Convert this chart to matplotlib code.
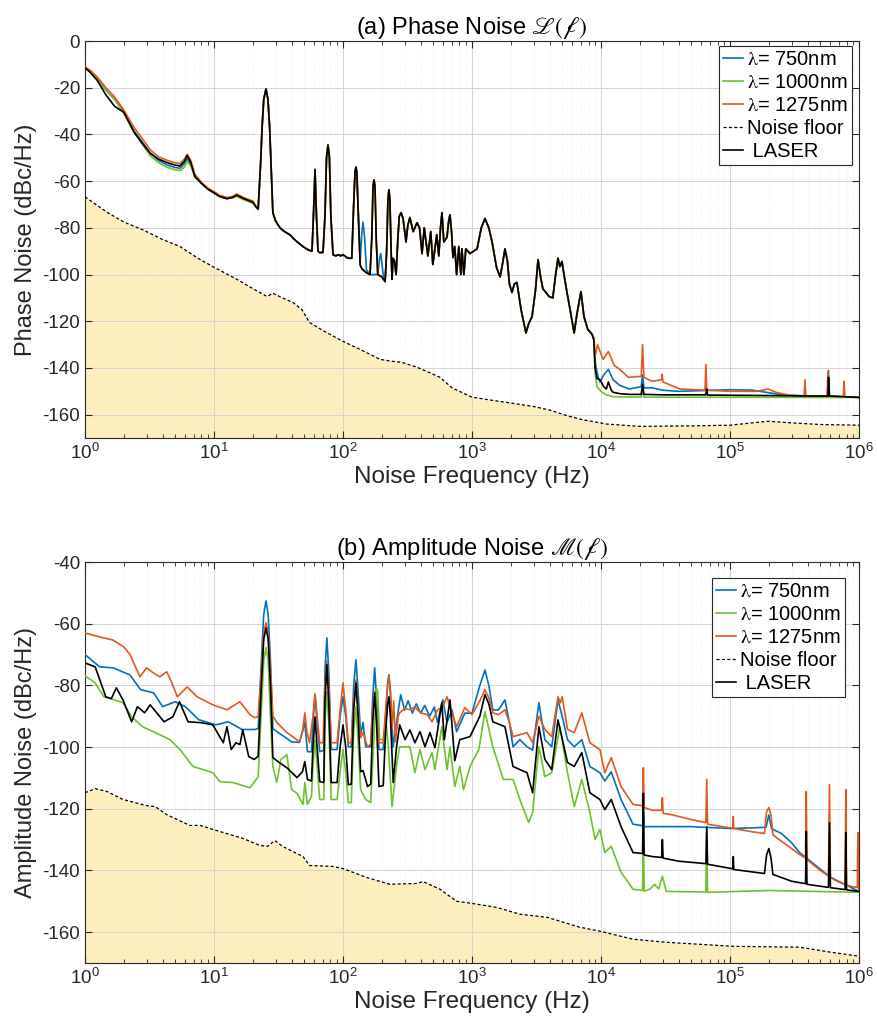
import numpy as np
import matplotlib
matplotlib.use("Agg")
import matplotlib.pyplot as plt
from matplotlib.ticker import (FixedLocator, NullFormatter, MultipleLocator,
                               LogFormatterSciNotation)
from matplotlib.font_manager import FontProperties

plt.rcParams["font.family"] = ["Liberation Sans", "DejaVu Sans"]
plt.rcParams["axes.unicode_minus"] = False

# ---------------------------------------------------------------- phase noise
# low-frequency part (1 Hz .. 21.5 Hz), one per source
pn_low_f = [1, 1.1, 1.25, 1.45, 1.7, 2.0, 2.4, 2.8, 3.2, 3.7, 4.3, 4.9, 5.45,
            5.9, 6.2, 6.6, 7.1, 8, 9, 10, 11, 12.6, 14, 15, 17, 20, 21.5]
pn_low_laser = [-11.5, -13.5, -17, -23, -28, -30.5, -39, -44, -48, -50.5, -52, -53, -53.5,
                -51.5, -49, -52, -58, -61, -63.5, -65, -66.5, -67.5, -67, -66, -67.5, -69, -71.5]
pn_low_750 = [-11.5, -13, -16, -21, -25, -30.5, -38.5, -43.5, -48, -51, -53, -54, -54.5,
              -52.5, -50.5, -53, -58, -61, -63.5, -65, -66.5, -67.5, -66.5, -66, -67.5, -69, -71.5]
pn_low_1000 = [-11.5, -13, -16, -21, -25, -31, -39, -44.5, -49, -52, -54, -55, -55.5,
               -54, -51.5, -53.5, -58, -61, -63.5, -65, -66.5, -67.5, -67, -66.5, -68, -69.5, -71.5]
pn_low_1275 = [-11, -12.5, -15.5, -20, -24, -29.5, -37, -42, -46.5, -49.5, -51, -52, -52.5,
               -50.5, -48.5, -51, -57, -60.5, -63, -64.5, -66, -67, -66.5, -65.5, -67, -68.5, -71.5]

# shared mid band (22 Hz .. 8.5 kHz), identical for every source
pn_mid_f = [22, 23, 23.6, 24.3, 25.3, 26.2, 27, 27.8, 28.6, 30, 32.5, 35, 38.8, 43, 49, 54,
            57.5, 59, 60.7, 62.3, 64, 66, 70, 72.5, 74.5, 76.5, 78.5, 80.5, 83.7, 88, 92, 96,
            100, 109, 117, 121, 124, 126, 128, 131, 136, 140, 150, 162, 167, 171, 174, 177,
            181, 186, 200, 212, 218, 223, 227, 231, 236, 240, 244, 250, 258, 266, 273, 282,
            292, 308, 318, 330, 350, 375, 392, 410, 426, 455, 479, 497, 533, 553, 570, 585,
            605, 640, 660, 675, 695, 712, 735, 760, 790, 820, 835, 865, 895, 930, 965, 1095,
            1180, 1260, 1350, 1430, 1550, 1650, 1730, 1800, 1880, 1950, 2040, 2130, 2230,
            2400, 2620, 2750, 2920, 3100, 3250, 3400, 3540, 3960, 4230, 4450, 4640, 4800,
            4980, 5200, 5450, 5800, 6190, 6550, 6990, 7380, 7900, 8530]
pn_mid_db = [-72, -52, -37, -25, -20.5, -25, -37, -55, -73.5, -77, -80, -81.5, -83, -85.5, -88,
             -89.5, -90, -75, -55, -75, -90, -90.6, -90.5, -75, -50, -44.5, -50, -75, -91.5,
             -92, -91.5, -92, -91.5, -93, -93, -70, -56, -54, -56, -72, -96, -97.5, -99, -100,
             -85, -62, -59.5, -62, -85, -100, -101, -103, -90, -68, -63.7, -68, -90, -102, -93,
             -94, -100, -85, -75, -73.5, -76, -86, -79, -75.6, -81.6, -77.8, -80, -91, -80,
             -92, -81.6, -95.7, -83, -92, -80, -73.5, -86, -84, -77, -74.4, -82, -92.7, -88,
             -100, -88, -100, -89, -100, -89, -90, -91, -89, -80, -76, -80, -86, -97, -101,
             -95, -89, -94, -104, -107.7, -104, -103.4, -115, -125, -121, -118, -107, -93.6,
             -101, -106, -109.4, -110, -100, -93, -96.6, -94.4, -101, -107.7, -116, -125, -116,
             -107.3, -118, -123.5, -125.6]

# 750 nm shows two extra bumps near 143 Hz and 196 Hz
pn_750_bump_f = [136, 140, 143, 147, 152, 162, 186, 192, 196, 200, 206]
pn_750_bump_db = [-94, -82, -77.5, -84, -98, -100, -100, -93, -91, -95, -101]

# high-frequency tails (8.8 kHz .. 1 MHz)
pn_hi_laser_f = [8800, 9000, 9300, 9800, 10500, 11000, 11400, 12000, 12400, 14000, 16600,
                 20500, 21000, 21500, 30000, 65000, 66000, 67000, 200000, 380000, 575000,
                 580000, 590000, 1e6]
pn_hi_laser_db = [-128, -140, -144.5, -145, -148, -149, -146, -149.5, -150.4, -151, -151.3,
                  -151.3, -147, -151.3, -151.5, -151.5, -149, -151.6, -151.8, -152, -152,
                  -144, -152, -152.6]
pn_hi_750_f = [8800, 9000, 9100, 9500, 9800, 10500, 11400, 12400, 13000, 14000, 16600,
               20500, 21000, 21500, 25000, 30000, 40000, 100000, 150000, 240000, 400000,
               570000, 580000, 590000, 1e6]
pn_hi_750_db = [-128, -136, -139, -144, -146, -143, -140.6, -145, -146, -147.5, -149, -148,
                -143, -148.5, -148.5, -149.5, -150, -149.3, -149.5, -151.3, -152, -152, -141,
                -152, -152.6]
pn_hi_1000_f = [8800, 9000, 9300, 10000, 11000, 12400, 20500, 21000, 21500, 1e6]
pn_hi_1000_db = [-128, -142, -148, -150, -151.5, -152.3, -152.5, -149, -152.5, -152.6]
pn_hi_1275_f = [8800, 9000, 9400, 10000, 10400, 11400, 12700, 14000, 16300, 20500, 21000,
                21500, 24900, 29500, 29800, 30200, 41000, 64000, 65000, 66000, 100000,
                162000, 197000, 230000, 308000, 375000, 381000, 387000, 565000, 575000,
                585000, 755000, 766000, 777000, 1e6]
pn_hi_1275_db = [-127, -135, -130, -134, -136.3, -133, -139, -140.6, -144, -143.6, -130,
                 -144, -145.7, -145, -142.7, -146, -149, -149.5, -138.5, -149.5, -150, -150,
                 -149, -150.5, -152, -152, -145, -152, -152, -141.5, -152, -152.3, -145.7,
                 -152.3, -152.6]

pn_floor_f = [1, 1.5, 2, 2.8, 4, 5.45, 7.5, 9.8, 15, 20, 25.8, 28.6, 34, 41, 48, 55, 70, 100,
              135, 194, 230, 287, 375, 470, 565, 700, 1000, 1500, 2000, 3000, 4000, 5500,
              7000, 11000, 20000, 50000, 100000, 197000, 300000, 500000, 1e6]
pn_floor_db = [-66.7, -73.5, -77.5, -80.8, -85, -88, -93, -96.6, -102, -106, -109.4, -108,
               -110, -112, -115, -120.5, -124, -128.6, -132, -136.3, -137, -137.6, -139.7,
               -142, -144, -148.5, -152.5, -154, -155, -156.5, -158, -160.5, -162, -164, -165,
               -164.8, -164.5, -162.8, -163.5, -164.2, -164.5]

# ------------------------------------------------------------ amplitude noise
am_floor_f = [1, 1.2, 1.48, 1.97, 3.0, 3.5, 4.3, 6.5, 7.8, 9.8, 16.7, 22.7, 26, 29.6, 34, 49,
              55, 83.7, 100, 153, 231, 375, 417, 565, 760, 1000, 1560, 2350, 3820, 6830,
              9800, 17700, 32000, 106000, 346000, 600000, 1e6]
am_floor_db = [-114.8, -113.5, -114.4, -117, -119, -119.3, -121.9, -125.4, -125.4, -126.7,
               -129.6, -131.9, -132.2, -130.3, -132.2, -135.5, -138.4, -138.7, -139.4, -142.3,
               -144.5, -144.2, -143.6, -146.1, -150, -150.7, -152, -154.2, -155.2, -158.4,
               -159.7, -162.3, -163.3, -164.6, -164.9, -166.5, -167.8]

am_1275_f = [1, 1.3, 1.65, 2.0, 2.23, 2.67, 3.0, 3.4, 3.8, 4.3, 4.7, 5.2, 6.2, 7.4, 8.5, 9.8,
             12.6, 15.9, 19, 20.8, 22, 23.3, 24.3, 25.3, 26.3, 27.4, 28.6, 30.7, 36.7, 42, 46,
             48.5, 50.6, 52.5, 55, 58.5, 60.7, 63, 66, 70, 72.5, 75, 77.5, 81, 90, 95, 100,
             105, 110, 116, 121, 126, 131, 137, 143, 155, 164, 170, 176, 182, 190, 205, 214,
             222, 227, 233, 240, 247, 255, 268, 275, 300, 330, 360, 400, 450, 490, 540, 594,
             640, 700, 760, 880, 1000, 1150, 1260, 1350, 1450, 1600, 1800, 1950, 2080, 2350,
             2670, 2950, 3300, 3670, 4150, 4640, 4850, 5000, 5500, 6200, 7100, 8200, 9800,
             10700, 12000, 14300, 17700, 21000, 21300, 21600, 25000, 29500, 29900, 30300,
             35000, 50000, 65000, 66000, 67000, 100000, 105000, 106000, 107000, 150000,
             185000, 192000, 200000, 208000, 215000, 250000, 346000, 385000, 390000, 395000,
             500000, 580000, 590000, 600000, 700000, 780000, 790000, 800000, 900000, 970000,
             980000, 990000, 1e6]
am_1275_db = [-63, -64.3, -65.3, -67.5, -70, -77.2, -74.3, -76, -77.2, -75.6, -79, -83.7,
              -80.5, -83.7, -85, -86.3, -87.9, -85.3, -89.5, -90.5, -90, -75, -63, -59.7, -63,
              -75, -90, -92, -95.3, -97, -98.3, -95, -88.9, -95, -98.6, -90, -82.7, -90, -98.6,
              -98.6, -80, -72, -80, -98.6, -98.6, -88, -79.2, -88, -98.6, -98.6, -85, -78.2,
              -88, -97, -95.3, -99.9, -99, -88, -82, -90, -98.6, -98.6, -88, -80, -76.9, -82,
              -94.3, -85, -98.3, -90, -88.9, -87.5, -87.9, -87, -88.9, -89.5, -91.8, -88,
              -86.9, -83.7, -89, -93.4, -87.2, -89.5, -85, -81.4, -84, -88.9, -89.5, -87.9,
              -92, -96.6, -96, -95.3, -98.6, -90, -94.3, -96.6, -83.7, -85.6, -83.7, -94.3,
              -95.3, -88.9, -98.6, -100.8, -108.3, -103.4, -112.8, -118.6, -119, -106.7,
              -119.6, -120.5, -120.5, -116.4, -121.5, -121.9, -123.5, -124.5, -110.5, -125,
              -126.2, -126.3, -122.5, -126.4, -127.5, -128, -121, -119.6, -122, -128.5, -130.5,
              -134.8, -136, -114.4, -136.5, -140, -141.8, -112.2, -142.3, -143.8, -144.5,
              -113.8, -144.8, -145.3, -145.5, -127.7, -145.8, -146]

am_750_f = [1, 1.3, 1.65, 2.23, 2.7, 3.4, 4.0, 5.0, 6.0, 7.6, 10.3, 12.9, 16.5, 20.8, 22,
            23.3, 24.3, 25.3, 26.3, 27.4, 28.6, 31.5, 40, 46, 50.6, 53, 57, 58.5, 60.7, 63,
            66, 71, 72.5, 75, 77.5, 81, 90, 95, 100, 105, 110, 116, 121, 126, 131, 137, 143,
            150, 164, 170, 176, 182, 190, 205, 214, 222, 227, 233, 245, 260, 280, 300, 320,
            345, 370, 400, 430, 470, 510, 540, 594, 640, 700, 760, 880, 1000, 1150, 1260,
            1350, 1450, 1600, 1800, 1950, 2080, 2350, 2670, 2950, 3300, 3670, 4150, 4640,
            5000, 5500, 6200, 7100, 8200, 9800, 10700, 12000, 14300, 17700, 21000, 21300,
            21600, 30000, 50000, 100000, 150000, 190000, 200000, 210000, 250000, 300000,
            346000, 450000, 590000, 700000, 1e6]
am_750_db = [-70, -74, -74.3, -76.6, -81.4, -82.4, -86.9, -85.3, -86.9, -91.1, -92.8, -91.8,
             -94.3, -94.3, -94, -72, -57, -52.6, -57, -72, -94, -95.3, -98.3, -98.5, -92,
             -101.5, -101.5, -92, -83, -92, -101.5, -101, -75, -64.6, -75, -100.8, -100.8,
             -90, -83.7, -90, -99.9, -99.9, -80, -71.7, -82, -96, -92, -99.9, -99.9, -84,
             -74.3, -84, -100.8, -100.8, -90, -79, -76.6, -82, -99.9, -92, -83, -88, -85, -89,
             -86, -89, -86.5, -90, -87, -92, -84.7, -92, -88, -95, -89, -89, -80, -75, -80,
             -87.9, -88, -84.7, -92, -99.9, -97.6, -99.9, -101, -85.6, -97.6, -99.9, -84.7,
             -90, -97.6, -99.9, -97.6, -106.3, -108.3, -111, -108, -117, -125, -125.5, -121,
             -125.8, -125.8, -125.8, -126.4, -126.2, -126, -122, -126.5, -128, -131, -134.2,
             -138, -142, -143.6, -146.8]

am_laser_f = [1, 1.2, 1.45, 1.6, 1.75, 1.97, 2.3, 2.55, 2.9, 3.2, 3.6, 4.1, 4.8, 5.4, 6.3, 8,
              9.8, 11.8, 12.6, 13.6, 14.8, 15.9, 16.7, 18.6, 20.5, 22, 23.3, 24.3, 25.3, 26.3,
              27.4, 28.6, 32, 36.7, 44, 48.5, 50.6, 53, 57, 58.5, 60.7, 63, 66, 71, 72.5, 75,
              77.5, 81, 90, 95, 100, 105, 110, 116, 121, 126, 131, 137, 143, 155, 164, 170,
              176, 182, 190, 205, 214, 222, 227, 233, 245, 260, 275, 303, 330, 361, 395, 432,
              472, 516, 583, 610, 675, 735, 804, 965, 1150, 1260, 1350, 1450, 1800, 2080, 2350,
              2670, 2950, 3300, 3670, 4150, 4640, 5500, 6200, 7100, 8200, 9800, 10700, 12000,
              14300, 17700, 21000, 21300, 21600, 25000, 29500, 29900, 30300, 40000, 65000,
              66000, 67000, 100000, 105000, 106000, 107000, 185000, 192000, 200000, 208000,
              215000, 300000, 385000, 390000, 395000, 580000, 590000, 600000, 780000, 790000,
              800000, 1e6]
am_laser_db = [-72.7, -74, -83.7, -84.3, -80.8, -84.7, -91.8, -86.9, -88.9, -86.3, -88.9,
               -91.8, -90.2, -85.3, -91.8, -92.1, -92.8, -98.6, -93.4, -100.8, -98.6, -99.2,
               -94.4, -103.1, -104, -103, -80, -65, -61.4, -65, -80, -103.4, -105, -106.7,
               -109.9, -108, -104.7, -110.5, -111, -100, -90.2, -100, -111.2, -111.5, -85,
               -73.3, -85, -111.5, -111.5, -100, -92.8, -100, -112.2, -112, -88, -79.2, -90,
               -108, -107.6, -112.8, -112, -92, -82.4, -92, -112.8, -112.5, -95, -86, -83.7,
               -90, -111.5, -100, -92.8, -97.6, -94.4, -98.6, -95, -99.9, -95.3, -100.2, -85.6,
               -97.6, -84.7, -104.4, -97.6, -96.6, -90, -83, -86, -91.8, -93.4, -106.3, -107.3,
               -108.3, -114.8, -93.4, -104, -107.3, -91.2, -105, -106.3, -101.8, -114.8, -117,
               -120.3, -117, -125.8, -134.2, -134.5, -115, -135, -135.5, -135.8, -130, -136,
               -137, -137.8, -125.8, -138, -139.3, -139.5, -135.5, -139.7, -141, -135, -132.9,
               -136, -141.3, -143.5, -144.3, -127.4, -144.5, -145.5, -124.5, -145.6, -146.2,
               -127.7, -146.3, -146.8]

am_1000_f = [1, 1.2, 1.4, 1.7, 1.97, 2.3, 2.8, 3.5, 4.56, 5.45, 6.87, 9.8, 11.1, 14, 19, 22,
             23.3, 24.3, 25.3, 26.3, 27.4, 28.6, 30.7, 33, 36.7, 40, 44, 49, 50.6, 53, 57,
             58.5, 60.7, 63, 66, 71, 72.5, 75, 77.5, 81, 90, 95, 100, 105, 110, 116, 121, 126,
             131, 137, 150, 164, 170, 176, 182, 186, 192, 205, 215, 225, 240, 262, 275, 330,
             361, 395, 432, 490, 516, 583, 640, 675, 735, 804, 860, 965, 1130, 1260, 1450,
             1750, 2080, 2350, 2750, 2950, 3300, 3670, 4150, 4800, 5500, 6200, 7100, 8200,
             9000, 9800, 10700, 12000, 14300, 17700, 21000, 21300, 21600, 24000, 26000, 28000,
             29900, 32000, 65000, 66000, 67000, 200000, 1e6]
am_1000_db = [-76.9, -79.2, -83.7, -84.7, -85.6, -90.2, -93.4, -95.3, -97.6, -100.8, -106.3,
              -108.3, -111.2, -111.5, -113.2, -109.6, -88, -72, -67.8, -72, -90, -106.3,
              -111.5, -104, -102.5, -113.8, -115, -118.6, -111.5, -118.6, -116, -106, -97.6,
              -106, -117, -117, -92, -82, -92, -117, -117, -108, -100.8, -108, -118, -118,
              -95, -87, -98, -113.8, -117, -118, -105, -92, -81, -82, -97.6, -97.6, -91.1,
              -100, -119.3, -105, -99.9, -99.9, -108.3, -100.8, -107.3, -101.8, -107.3, -93.4,
              -107.3, -99.9, -112.8, -106.3, -113.8, -106.3, -100.8, -88.5, -99.9, -110.5,
              -110.5, -117, -124.5, -121.2, -99.9, -109.6, -108.3, -93.4, -108.3, -119.3,
              -110.5, -121.2, -130, -126.7, -134.2, -132.2, -140.6, -146.1, -146.5, -123.5,
              -146.8, -146, -144.5, -146, -141.9, -146.8, -147, -126.7, -147.1, -146.5, -147.1]

labels = [r"$\mathrm{\lambda}$= 750nm", r"$\mathrm{\lambda}$= 1000nm",
          r"$\mathrm{\lambda}$= 1275nm", "Noise floor", " LASER"]
colors = ["#0072BD", "#6CC22F", "#E2581E"]
decades = [1, 10, 100, 1e3, 1e4, 1e5, 1e6]


def splice(base_f, base_db, seg_f, seg_db):
    """Replace the part of a trace that lies inside seg_f's span with seg."""
    lo, hi = seg_f[0], seg_f[-1]
    keep = [(f, d) for f, d in zip(base_f, base_db) if f < lo or f > hi]
    pts = sorted(keep + list(zip(seg_f, seg_db)))
    return [p[0] for p in pts], [p[1] for p in pts]


def join(*parts):
    f, d = [], []
    for pf, pd in parts:
        f += list(pf)
        d += list(pd)
    return f, d


pn_750 = join((pn_low_f, pn_low_750),
              splice(pn_mid_f, pn_mid_db, pn_750_bump_f, pn_750_bump_db),
              (pn_hi_750_f, pn_hi_750_db))
pn_1000 = join((pn_low_f, pn_low_1000), (pn_mid_f, pn_mid_db), (pn_hi_1000_f, pn_hi_1000_db))
pn_1275 = join((pn_low_f, pn_low_1275), (pn_mid_f, pn_mid_db), (pn_hi_1275_f, pn_hi_1275_db))
pn_laser = join((pn_low_f, pn_low_laser), (pn_mid_f, pn_mid_db), (pn_hi_laser_f, pn_hi_laser_db))

fig = plt.figure(figsize=(8.77, 10.23), dpi=100)
ax1 = fig.add_axes([0.0969, 0.5718, 0.8826, 0.3881])
ax2 = fig.add_axes([0.0969, 0.0587, 0.8826, 0.3919])

leg_fp = FontProperties(family="Liberation Sans", size=14.5, math_fontfamily="stix")

minor_x = [m * d for d in decades[:-1] for m in range(2, 10)]


def style(ax, ylo, yhi, step):
    ax.set_xscale("log")
    ax.set_xlim(1, 1e6)
    ax.set_ylim(ylo, yhi)
    ax.yaxis.set_major_locator(MultipleLocator(step))
    ax.xaxis.set_major_locator(FixedLocator(decades))
    ax.xaxis.set_major_formatter(LogFormatterSciNotation())
    ax.xaxis.set_minor_locator(FixedLocator(minor_x))
    ax.xaxis.set_minor_formatter(NullFormatter())
    ax.grid(True, which="major", color="#d4d4d4", lw=0.7, zorder=0)
    ax.grid(True, which="minor", axis="x", color="#ececec", lw=0.6, ls=":", zorder=0)
    ax.tick_params(which="both", direction="in", top=True, right=True, colors="#262626")
    ax.tick_params(which="major", length=5, width=0.8, labelsize=13.5)
    ax.tick_params(which="minor", length=3, width=0.6, labelbottom=False, labelleft=False)
    for s in ax.spines.values():
        s.set_color("#262626")
        s.set_linewidth(0.8)
    ax.set_xlabel("Noise Frequency (Hz)", fontsize=17.5, color="#262626", labelpad=2)


def draw(ax, floor_f, floor_db, traces, ylo):
    ax.fill_between(floor_f, floor_db, ylo, color="#FBDF7D", alpha=0.5, lw=0, zorder=1)
    handles = []
    for (f, d), c in zip(traces[:3], colors):
        handles.append(ax.plot(f, d, color=c, lw=1.2, zorder=3)[0])
    handles.append(ax.plot(floor_f, floor_db, color="black", ls=(0, (2.5, 1.8)), lw=0.9,
                           zorder=4)[0])
    f, d = traces[3]
    handles.append(ax.plot(f, d, color="black", lw=1.2, zorder=3.5)[0])
    return handles


def legend(ax, handles, anchor):
    leg = ax.legend(handles, labels, loc="upper right", bbox_to_anchor=anchor, prop=leg_fp,
                    fancybox=False, edgecolor="#262626", framealpha=1, borderpad=0.2,
                    handlelength=1.0, handletextpad=0.2, labelspacing=0.2, borderaxespad=0)
    leg.get_frame().set_linewidth(0.8)


style(ax1, -170, 0, 20)
h1 = draw(ax1, pn_floor_f, pn_floor_db, [pn_750, pn_1000, pn_1275, pn_laser], -170)
ax1.set_ylabel("Phase Noise (dBc/Hz)", fontsize=17, color="#262626", labelpad=4)
ax1.set_title(r"(a) Phase Noise $\mathscr{L}(\mathscr{f})$", fontsize=17, color="black",
              math_fontfamily="stix", pad=5)
legend(ax1, h1, (0.991, 0.988))

style(ax2, -170, -40, 20)
am_traces = [(am_750_f, am_750_db), (am_1000_f, am_1000_db), (am_1275_f, am_1275_db),
             (am_laser_f, am_laser_db)]
h2 = draw(ax2, am_floor_f, am_floor_db, am_traces, -170)
ax2.set_ylabel("Amplitude Noise (dBc/Hz)", fontsize=17, color="#262626", labelpad=4)
ax2.set_title(r"(b) Amplitude Noise $\mathscr{M}(\mathscr{f})$", fontsize=17, color="black",
              math_fontfamily="stix", pad=5)
legend(ax2, h2, (0.982, 0.96))

fig.savefig("out.png", dpi=100)
